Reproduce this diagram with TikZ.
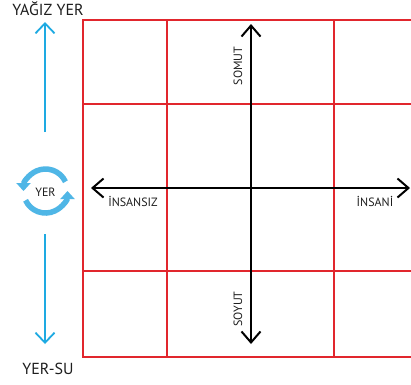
\documentclass[tikz,border=0pt]{standalone}
\usepackage{fontspec}
\setmainfont{PT Sans}
\usetikzlibrary{arrows.meta}
\definecolor{gridred}{HTML}{E1262D}
\definecolor{axblue}{HTML}{1EAAE2}
\definecolor{cycblue}{HTML}{4FB6E6}
\definecolor{txt}{HTML}{1E1E1E}
\tikzset{
  gridline/.style={draw=gridred, line width=2.2pt},
  axisline/.style={draw=black, line width=2pt, {Straight Barb[length=11pt,width=19pt]}-{Straight Barb[length=11pt,width=19pt]}},
  bluearrow/.style={draw=axblue, line width=1.8pt, -{Straight Barb[length=10pt,width=19pt]}},
  cyc/.style={draw=cycblue, line width=5.5pt, -{Triangle[length=8pt,width=14pt]}},
  bigtext/.style={text=txt, inner sep=0pt, font=\fontsize{16}{19}\selectfont},
  smalltext/.style={text=txt, inner sep=0pt, font=\fontsize{12}{14}\selectfont},
}
\begin{document}
\begin{tikzpicture}[x=1pt,y=-1pt]
\useasboundingbox (0,0) rectangle (411,384);
\clip (0,0) rectangle (411,384);
\fill[white] (0,0) rectangle (411,384);
% grid
\draw[gridline] (83,20) rectangle (418,357);
\foreach \x in {167,334} \draw[gridline] (\x,20) -- (\x,357);
\foreach \y in {104,271} \draw[gridline] (83,\y) -- (418,\y);
% axes
\coordinate (atop) at (251,24);
\coordinate (abot) at (251,344);
\coordinate (aleft) at (91,188);
\coordinate (aright) at (410,188);
\draw[axisline] (abot) -- (atop);
\draw[axisline] (aleft) -- (aright);
% blue arrows
\coordinate (bu1) at (45,132);
\coordinate (bu2) at (45,22);
\coordinate (bd1) at (45,234);
\coordinate (bd2) at (45,344);
\draw[bluearrow] (bu1) -- (bu2);
\draw[bluearrow] (bd1) -- (bd2);
% cycle icon
\begin{scope}[shift={(45.5,191)}, y=1pt]
\draw[cyc] (25:22) arc (25:180:22);
\draw[cyc] (205:22) arc (205:360:22);
\end{scope}
\node[text=txt, inner sep=0pt, font=\fontsize{12}{14}\selectfont] (yer) at (45.5,192) {YER};
% labels
\node[bigtext] (yagiz) at (48,9) {YAĞIZ YER};
\node[bigtext] (yersu) at (48,369) {YER-SU};
\node[smalltext] (insansiz) at (133,201) {İNSANSIZ};
\node[smalltext] (insani) at (375,201) {İNSANİ};
\node[smalltext, rotate=90] (somut) at (238,66) {SOMUT};
\node[smalltext, rotate=90] (soyut) at (238,309) {SOYUT};
\end{tikzpicture}
\end{document}
